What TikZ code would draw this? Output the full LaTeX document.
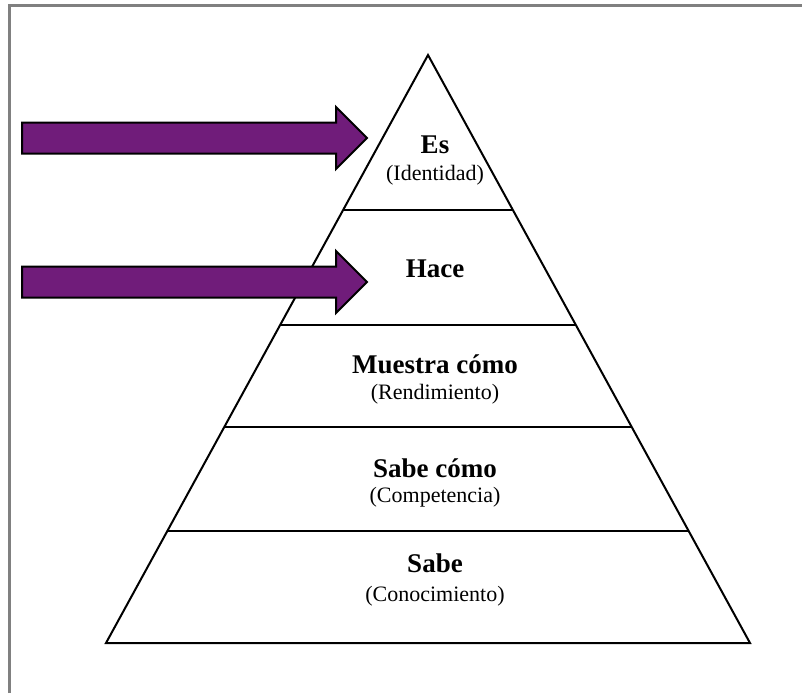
\documentclass[tikz,border=0pt]{standalone}
\usepackage{fontspec}
\setmainfont{Liberation Serif}
\usepackage{tikz}
\usetikzlibrary{calc}
\definecolor{arrowpurple}{RGB}{112,28,122}

\begin{document}
\begin{tikzpicture}[
		x=0.5pt, y=-0.5pt,
		level/.style={line width=1pt},
		title/.style={anchor=base, font=\fontsize{13.5}{16}\selectfont\bfseries},
		sub/.style={anchor=base, font=\fontsize{11}{13}\selectfont},
		bigarrow/.style={fill=arrowpurple, draw=black, line width=1pt, line join=miter}]
		\useasboundingbox (0,0) rectangle (802,693);
		\draw[gray, line width=1.5pt] (9,693) -- (9,5) -- (802,5);

		\coordinate (top) at (428,55);
		\coordinate (bl) at (106,643);
		\coordinate (br) at (750,643);
		\draw[level, line join=miter] (top) -- (bl) -- (br) -- cycle;

% dividing lines between the levels
		\draw[level] ($(top)!0.264!(bl)$) -- ($(top)!0.264!(br)$);
		\draw[level] ($(top)!0.459!(bl)$) -- ($(top)!0.459!(br)$);
		\draw[level] ($(top)!0.633!(bl)$) -- ($(top)!0.633!(br)$);
		\draw[level] ($(top)!0.810!(bl)$) -- ($(top)!0.810!(br)$);

		\node[title] (es) at (435,153) {Es};
		\node[sub] (esSub) at (435,180) {(Identidad)};
		\node[title] (hace) at (435,277) {Hace};
		\node[title] (muestra) at (435,373) {Muestra cómo};
		\node[sub] (muestraSub) at (435,399) {(Rendimiento)};
		\node[title] (sabeComo) at (435,477) {Sabe cómo};
		\node[sub] (sabeComoSub) at (435,502) {(Competencia)};
		\node[title] (sabe) at (435,572) {Sabe};
		\node[sub] (sabeSub) at (435,601) {(Conocimiento)};

		\draw[bigarrow] (22,122.5) -- (336,122.5) -- (336,107) -- (367,138)
			-- (336,169) -- (336,153.5) -- (22,153.5) -- cycle;
		\draw[bigarrow] (22,266.5) -- (336,266.5) -- (336,251) -- (367,282)
			-- (336,313) -- (336,297.5) -- (22,297.5) -- cycle;
\end{tikzpicture}
\end{document}
